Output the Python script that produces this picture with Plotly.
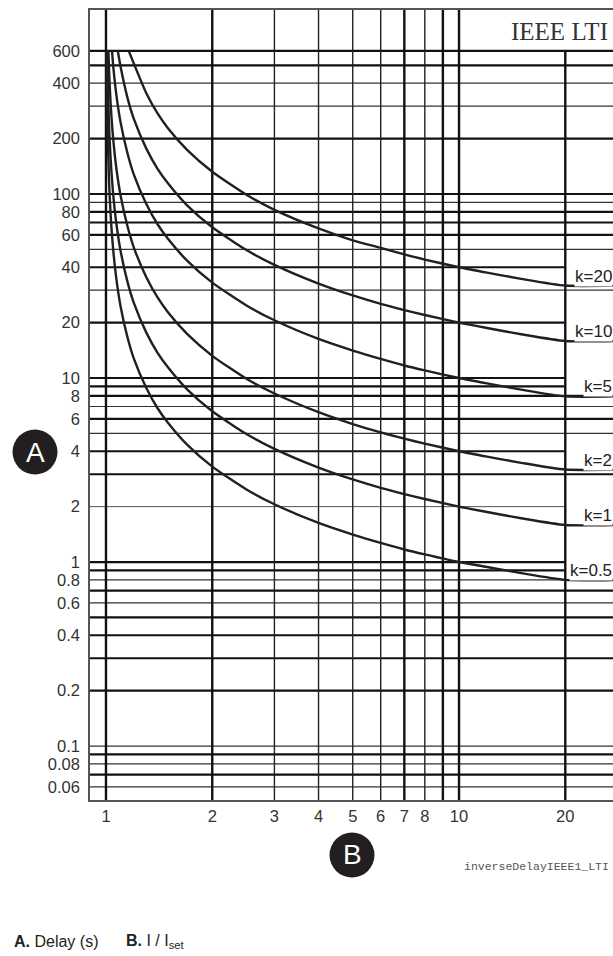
import numpy as np
import plotly.graph_objects as go

# delay curves: x = I / Iset, y = delay (s)
k_labels = ["k=20", "k=10", "k=5", "k=2", "k=1", "k=0.5"]

x_k20 = [1.16, 1.2, 1.3, 1.4, 1.5, 1.7, 2, 2.5, 3, 4, 5, 6, 7, 8, 10, 12, 15, 20, 28]
t_k20 = [600, 510, 354, 274, 227, 173, 132, 99, 82, 65, 56, 51, 47, 44, 40, 37.4, 34.6, 31.8, 31.8]

x_k10 = [1.08, 1.1, 1.15, 1.2, 1.3, 1.4, 1.5, 1.7, 2, 2.5, 3, 4, 5, 6, 7, 8, 10, 12, 15, 20, 28]
t_k10 = [600, 491, 334, 255, 177, 137, 114, 86.5, 66, 49.6, 41.2, 32.6, 28.1, 25.3, 23.4, 22, 20, 18.7, 17.3, 15.9, 15.9]

x_k5 = [1.04, 1.05, 1.07, 1.1, 1.15, 1.2, 1.3, 1.4, 1.5, 1.7, 2, 2.5, 3, 4, 5, 6, 7, 8, 10, 12, 15, 20, 28]
t_k5 = [600, 480, 346, 245, 167, 127, 88.5, 68.5, 56.9, 43.3, 33, 24.8, 20.6, 16.3, 14.1, 12.7, 11.7, 11, 10, 9.35, 8.65, 7.95, 7.95]

x_k2 = [1.016, 1.02, 1.03, 1.05, 1.07, 1.1, 1.15, 1.2, 1.3, 1.4, 1.5, 1.7, 2, 2.5, 3, 4, 5, 6, 7, 8, 10, 12, 15, 20, 28]
t_k2 = [600, 474, 317, 192, 138, 98, 67, 51, 35.4, 27.4, 22.7, 17.3, 13.2, 9.9, 8.24, 6.52, 5.62, 5.06, 4.68, 4.4, 4.0, 3.74, 3.46, 3.18, 3.18]

x_k1 = [1.008, 1.01, 1.02, 1.03, 1.05, 1.07, 1.1, 1.15, 1.2, 1.3, 1.4, 1.5, 1.7, 2, 2.5, 3, 4, 5, 6, 7, 8, 10, 12, 15, 20, 28]
t_k1 = [600, 472, 237, 159, 96, 69, 49, 33.4, 25.5, 17.7, 13.7, 11.4, 8.65, 6.6, 4.96, 4.12, 3.26, 2.81, 2.53, 2.34, 2.2, 2.0, 1.87, 1.73, 1.59, 1.59]

x_k05 = [1.004, 1.005, 1.01, 1.02, 1.03, 1.05, 1.07, 1.1, 1.15, 1.2, 1.3, 1.4, 1.5, 1.7, 2, 2.5, 3, 4, 5, 6, 7, 8, 10, 12, 15, 20, 28]
t_k05 = [600, 470, 236, 118, 79, 48, 34.6, 24.5, 16.7, 12.7, 8.85, 6.85, 5.7, 4.33, 3.3, 2.48, 2.06, 1.63, 1.41, 1.27, 1.17, 1.1, 1.0, 0.94, 0.87, 0.8, 0.8]

curves_x = [x_k20, x_k10, x_k5, x_k2, x_k1, x_k05]
curves_t = [t_k20, t_k10, t_k5, t_k2, t_k1, t_k05]

# grid of the printed chart paper
h_thick = [600, 500, 200, 100, 80, 70, 60, 3, 8, 6, 0.7, 0.5, 0.4, 0.3, 0.2, 0.09, 0.07]
h_thin = [400, 300, 90, 50, 30, 7, 5, 0.8, 0.6, 0.1, 0.08, 0.06]
h_short = [40, 20, 10, 9, 4, 1, 0.9]   # stop at x=20 (label area)
h_short_thin = [2]
v_thick = [1, 2, 7, 9, 10]
v_thin = [3, 4, 5, 6, 8]
v_twenty = [20]

y_ticks = [600, 400, 200, 100, 80, 60, 40, 20, 10, 8, 6, 4, 2, 1, 0.8, 0.6, 0.4, 0.2, 0.1, 0.08, 0.06]
y_ticktext = ["600", "400", "200", "100", "80", "60", "40", "20", "10", "8", "6", "4", "2", "1",
              "0.8", "0.6", "0.4", "0.2", "0.1", "0.08", "0.06"]
x_ticks = [1, 2, 3, 4, 5, 6, 7, 8, 10, 20]

x_lo, x_hi = 0.901, 27.3
y_lo, y_hi = 0.0509, 1000

W, H = 613, 956
ML, MT = 90, 10
MB = H - 800
PW, PH = W - ML, H - MT - MB


def px_x(px):
    return (px - ML) / PW


def px_y(py):
    return (MT + PH - py) / PH


def hlines(vals, x0, x1):
    xs, ys = [], []
    for v in vals:
        xs += [x0, x1, None]
        ys += [v, v, None]
    return xs, ys


def vlines(vals, y0, y1):
    xs, ys = [], []
    for v in vals:
        xs += [v, v, None]
        ys += [y0, y1, None]
    return xs, ys


fig = go.Figure()

grid_sets = [
    (hlines(h_thick, x_lo, 30), 2.2, "#111"),
    (hlines(h_thin, x_lo, 30), 1.2, "#333"),
    (hlines(h_short, x_lo, 20), 2.2, "#111"),
    (hlines(h_short_thin, x_lo, 20), 1.0, "#555"),
    (vlines(v_thick, 0.04, 1100), 2.4, "#111"),
    (vlines(v_thin, 0.04, 1100), 1.4, "#222"),
    (vlines(v_twenty, 0.04, 600), 2.4, "#111"),
]
for (xs, ys), w, c in grid_sets:
    fig.add_trace(go.Scatter(x=xs, y=ys, mode="lines", line=dict(color=c, width=w),
                             hoverinfo="skip", showlegend=False))

for name, xs, ts in zip(k_labels, curves_x, curves_t):
    fig.add_trace(go.Scatter(x=xs, y=ts, mode="lines", name=name,
                             line=dict(color="#231f20", width=2.4, shape="spline", smoothing=0.6),
                             showlegend=False))

font_main = "Arial, Liberation Sans, sans-serif"

annotations = []
for name, ts in zip(k_labels, curves_t):
    annotations.append(dict(
        text=name, xref="paper", x=1, xanchor="right", xshift=0,
        yref="y", y=np.log10(ts[-1]), yanchor="bottom", yshift=-1,
        showarrow=False, bgcolor="white", borderpad=0,
        font=dict(family=font_main, size=17, color="#222"),
    ))

annotations += [
    dict(text="IEEE LTI", xref="paper", yref="paper", x=1, y=px_y(31),
         xanchor="right", yanchor="middle", xshift=-3, showarrow=False,
         font=dict(family="Liberation Serif, Times New Roman, serif", size=25, color="#333")),
    dict(text="A", xref="paper", yref="paper", x=px_x(35), y=px_y(452),
         xanchor="center", yanchor="middle", showarrow=False,
         font=dict(family=font_main, size=28, color="white")),
    dict(text="B", xref="paper", yref="paper", x=px_x(352), y=px_y(855),
         xanchor="center", yanchor="middle", showarrow=False,
         font=dict(family=font_main, size=28, color="white")),
    dict(text="inverseDelayIEEE1_LTI", xref="paper", yref="paper", x=1, y=px_y(866),
         xanchor="right", yanchor="middle", xshift=-2, showarrow=False,
         font=dict(family="Liberation Mono, Courier New, monospace", size=11.5, color="#555")),
    dict(text="<b>A.</b> Delay (s)", xref="paper", yref="paper", x=px_x(12), y=px_y(941),
         xanchor="left", yanchor="middle", showarrow=False,
         font=dict(family=font_main, size=16, color="#222")),
    dict(text="<b>B.</b> I / I<sub>set</sub>", xref="paper", yref="paper", x=px_x(124), y=px_y(941),
         xanchor="left", yanchor="middle", showarrow=False,
         font=dict(family=font_main, size=16, color="#222")),
]

shapes = [
    dict(type="circle", xref="paper", yref="paper", xsizemode="pixel", ysizemode="pixel",
         xanchor=px_x(35), yanchor=px_y(452), x0=-22.5, x1=22.5, y0=-22.5, y1=22.5,
         fillcolor="#231f20", line=dict(width=0), layer="above"),
    dict(type="circle", xref="paper", yref="paper", xsizemode="pixel", ysizemode="pixel",
         xanchor=px_x(352), yanchor=px_y(855), x0=-22.5, x1=22.5, y0=-22.5, y1=22.5,
         fillcolor="#231f20", line=dict(width=0), layer="above"),
]

fig.update_layout(
    width=W, height=H,
    margin=dict(l=ML, r=0, t=MT, b=MB),
    paper_bgcolor="white", plot_bgcolor="white",
    showlegend=False,
    annotations=annotations,
    shapes=shapes,
    xaxis=dict(
        type="log", range=[np.log10(x_lo), np.log10(x_hi)],
        showgrid=False, zeroline=False,
        showline=True, linecolor="#555", linewidth=1.5, mirror=True,
        tickvals=x_ticks, ticktext=[str(v) for v in x_ticks],
        ticks="", ticklabelstandoff=0,
        tickfont=dict(family=font_main, size=16.5, color="#333"),
    ),
    yaxis=dict(
        type="log", range=[np.log10(y_lo), np.log10(y_hi)],
        showgrid=False, zeroline=False,
        showline=True, linecolor="#555", linewidth=1.5,
        tickvals=y_ticks, ticktext=y_ticktext,
        ticks="", ticklabelstandoff=5,
        tickfont=dict(family=font_main, size=16.5, color="#333"),
    ),
)

# the page is exactly the figure: no body margin, no scrollbars
fig.write_html("out.html", config={"displayModeBar": False},
               post_script="document.body.style.margin='0';document.body.style.overflow='hidden';")
